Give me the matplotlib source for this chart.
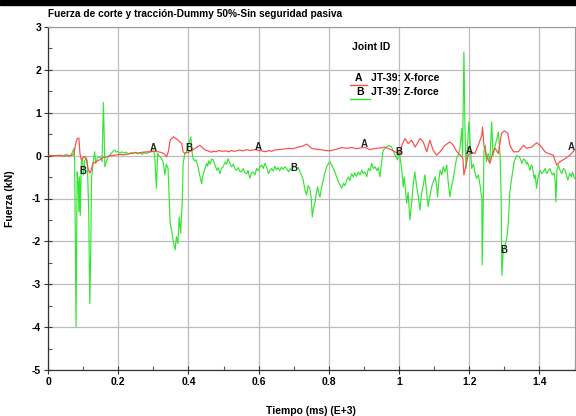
import numpy as np
import matplotlib
matplotlib.use("Agg")
import matplotlib.pyplot as plt
from matplotlib.ticker import MultipleLocator
from matplotlib.patches import Rectangle

plt.rcParams['font.family'] = ['Liberation Sans', 'DejaVu Sans']
plt.rcParams['axes.unicode_minus'] = False

# JT-39 X-force: (time in ms E+3, force in kN)
x_force_pts = [
    (0.000, 0.00), (0.028, 0.00), (0.048, -0.01), (0.066, 0.00), (0.074, 0.03),
    (0.078, 0.24), (0.083, 0.40), (0.088, 0.41), (0.091, 0.05), (0.095, -0.10),
    (0.103, -0.02), (0.109, -0.07), (0.114, -0.30), (0.119, -0.41), (0.123, -0.34),
    (0.128, -0.18), (0.138, -0.14), (0.147, -0.10), (0.156, -0.05), (0.166, -0.03),
    (0.178, 0.00), (0.190, 0.01), (0.205, 0.03), (0.216, 0.02), (0.228, 0.04),
    (0.238, 0.05), (0.247, 0.07), (0.258, 0.06), (0.270, 0.08), (0.285, 0.09),
    (0.304, 0.10), (0.320, 0.08), (0.330, 0.05), (0.338, -0.03), (0.343, 0.10),
    (0.348, 0.36), (0.357, 0.44), (0.371, 0.36), (0.381, 0.28), (0.385, 0.09),
    (0.390, 0.05), (0.400, 0.08), (0.409, 0.11), (0.417, 0.16), (0.424, 0.20),
    (0.433, 0.24), (0.442, 0.17), (0.448, 0.13), (0.456, 0.11), (0.465, 0.08),
    (0.472, 0.10), (0.479, 0.09), (0.487, 0.12), (0.495, 0.10), (0.507, 0.11),
    (0.515, 0.09), (0.522, 0.12), (0.529, 0.10), (0.536, 0.11), (0.545, 0.13),
    (0.555, 0.11), (0.566, 0.14), (0.575, 0.12), (0.590, 0.14), (0.600, 0.12),
    (0.609, 0.11), (0.620, 0.09), (0.630, 0.12), (0.637, 0.10), (0.646, 0.13),
    (0.655, 0.14), (0.668, 0.15), (0.685, 0.17), (0.698, 0.16), (0.713, 0.20),
    (0.725, 0.22), (0.737, 0.27), (0.751, 0.17), (0.762, 0.15), (0.775, 0.14),
    (0.790, 0.12), (0.803, 0.11), (0.818, 0.14), (0.827, 0.16), (0.837, 0.19),
    (0.850, 0.17), (0.865, 0.19), (0.879, 0.16), (0.890, 0.18), (0.903, 0.19),
    (0.917, 0.14), (0.927, 0.16), (0.936, 0.17), (0.948, 0.18), (0.960, 0.20),
    (0.979, 0.13), (0.993, 0.07), (1.003, 0.05), (1.008, 0.24), (1.017, 0.40),
    (1.026, 0.28), (1.036, 0.36), (1.046, 0.20), (1.060, 0.40), (1.069, 0.32),
    (1.079, 0.09), (1.088, 0.36), (1.097, 0.13), (1.107, 0.01), (1.117, 0.09),
    (1.131, 0.24), (1.145, 0.32), (1.155, 0.24), (1.164, 0.10), (1.179, -0.03),
    (1.182, -0.07), (1.185, -0.45), (1.191, -0.22), (1.197, 0.01), (1.207, 0.08),
    (1.216, 0.05), (1.226, 0.24), (1.236, 0.48), (1.238, 0.67), (1.242, 0.24),
    (1.249, 0.00), (1.259, -0.18), (1.268, 0.10), (1.274, 0.17), (1.283, 0.05),
    (1.292, 0.52), (1.300, 0.58), (1.310, 0.52), (1.316, 0.24), (1.326, 0.09),
    (1.340, 0.09), (1.355, 0.24), (1.364, 0.17), (1.378, 0.20), (1.392, 0.30),
    (1.402, 0.24), (1.416, 0.09), (1.425, 0.05), (1.440, 0.01), (1.444, -0.10),
    (1.449, -0.22), (1.459, -0.14), (1.473, -0.07), (1.487, 0.01), (1.500, 0.13),
]

# JT-39 Z-force: (time in ms E+3, force in kN)
z_force_pts = [
    (0.000, 0.01), (0.015, -0.01), (0.030, 0.01), (0.045, 0.00), (0.052, 0.03),
    (0.062, -0.01), (0.068, 0.05), (0.074, 0.17), (0.076, -0.15), (0.080, -3.99),
    (0.083, -0.38), (0.086, -0.60), (0.088, -1.31), (0.090, -0.50), (0.092, -1.39),
    (0.095, -0.14), (0.098, -0.05), (0.101, -0.45), (0.105, -0.10), (0.109, -0.05),
    (0.112, -0.14), (0.116, -1.31), (0.119, -3.45), (0.122, -2.09), (0.124, -0.53),
    (0.128, -0.20), (0.133, 0.09), (0.136, -0.18), (0.140, -0.08), (0.144, -0.03),
    (0.150, -0.05), (0.154, -0.14), (0.158, 1.24), (0.162, -0.26), (0.166, -0.15),
    (0.171, -0.03), (0.180, 0.05), (0.185, 0.10), (0.190, 0.13), (0.195, 0.08),
    (0.199, 0.10), (0.205, 0.06), (0.210, 0.09), (0.215, 0.06), (0.222, 0.08),
    (0.229, 0.04), (0.237, 0.07), (0.244, 0.05), (0.250, 0.08), (0.255, 0.04),
    (0.262, 0.07), (0.268, 0.03), (0.275, 0.07), (0.282, 0.05), (0.288, 0.08),
    (0.294, 0.09), (0.300, 0.12), (0.304, 0.00), (0.309, -0.76), (0.312, 0.05),
    (0.316, 0.00), (0.322, -0.05), (0.328, -0.15), (0.333, -0.45), (0.337, -0.20),
    (0.342, -0.30), (0.348, -1.57), (0.352, -1.74), (0.357, -2.00), (0.362, -2.20),
    (0.366, -1.89), (0.370, -2.05), (0.374, -1.43), (0.378, -1.81), (0.383, -0.96),
    (0.385, -0.18), (0.390, 0.05), (0.396, 0.10), (0.407, 0.44), (0.412, -0.03),
    (0.417, -0.12), (0.422, -0.10), (0.427, -0.25), (0.433, -0.49), (0.436, -0.60),
    (0.438, -0.65), (0.440, -0.50), (0.442, -0.45), (0.447, -0.30), (0.452, -0.18),
    (0.455, -0.25), (0.458, -0.12), (0.462, -0.20), (0.466, -0.08), (0.471, -0.10),
    (0.476, -0.22), (0.481, -0.34), (0.485, -0.28), (0.490, -0.42), (0.494, -0.30),
    (0.499, -0.26), (0.505, -0.15), (0.509, -0.20), (0.513, -0.07), (0.518, -0.18),
    (0.523, -0.26), (0.528, -0.20), (0.532, -0.30), (0.537, -0.34), (0.542, -0.28),
    (0.546, -0.36), (0.551, -0.38), (0.556, -0.30), (0.561, -0.40), (0.566, -0.42),
    (0.570, -0.35), (0.575, -0.53), (0.580, -0.40), (0.585, -0.38), (0.590, -0.45),
    (0.594, -0.30), (0.599, -0.35), (0.604, -0.26), (0.609, -0.22), (0.613, -0.30),
    (0.618, -0.18), (0.623, -0.28), (0.628, -0.42), (0.632, -0.35), (0.637, -0.30),
    (0.642, -0.36), (0.646, -0.25), (0.651, -0.33), (0.655, -0.28), (0.660, -0.35),
    (0.665, -0.27), (0.670, -0.32), (0.675, -0.26), (0.680, -0.30), (0.685, -0.38),
    (0.690, -0.30), (0.695, -0.35), (0.700, -0.24), (0.704, -0.26), (0.709, -0.30),
    (0.713, -0.28), (0.718, -0.38), (0.722, -0.45), (0.727, -0.57), (0.732, -0.80),
    (0.737, -0.92), (0.741, -0.70), (0.746, -0.76), (0.750, -1.00), (0.753, -1.43),
    (0.757, -1.20), (0.761, -1.08), (0.765, -0.85), (0.768, -0.73), (0.772, -0.90),
    (0.775, -0.96), (0.779, -0.75), (0.784, -0.57), (0.789, -0.40), (0.794, -0.26),
    (0.798, -0.20), (0.803, -0.14), (0.808, -0.22), (0.813, -0.30), (0.818, -0.40),
    (0.822, -0.49), (0.827, -0.60), (0.832, -0.68), (0.837, -0.76), (0.842, -0.65),
    (0.846, -0.70), (0.851, -0.57), (0.856, -0.50), (0.860, -0.58), (0.865, -0.42),
    (0.870, -0.50), (0.874, -0.40), (0.879, -0.49), (0.884, -0.38), (0.889, -0.45),
    (0.894, -0.34), (0.898, -0.42), (0.903, -0.38), (0.908, -0.49), (0.913, -0.30),
    (0.918, -0.35), (0.922, -0.18), (0.927, -0.30), (0.932, -0.26), (0.937, -0.35),
    (0.941, -0.28), (0.946, -0.49), (0.950, -0.20), (0.955, 0.13), (0.962, 0.18),
    (0.970, 0.24), (0.979, 0.20), (0.989, 0.01), (0.996, -0.10), (1.000, 0.13),
    (1.008, -0.34), (1.012, -0.73), (1.015, -0.50), (1.022, -1.11), (1.026, -0.85),
    (1.031, -1.50), (1.036, -1.11), (1.040, -0.70), (1.045, -0.38), (1.050, -0.70),
    (1.055, -0.95), (1.060, -1.27), (1.064, -0.90), (1.069, -0.70), (1.074, -0.45),
    (1.078, -0.80), (1.083, -1.19), (1.088, -0.95), (1.093, -0.73), (1.098, -0.60),
    (1.103, -0.49), (1.107, -0.70), (1.110, -0.96), (1.114, -0.55), (1.117, -0.34),
    (1.122, -0.45), (1.126, -0.26), (1.131, -0.38), (1.136, -0.22), (1.140, -0.60),
    (1.145, -0.96), (1.150, -0.70), (1.155, -0.53), (1.160, -0.25), (1.164, -0.07),
    (1.170, 0.05), (1.174, 0.20), (1.179, 0.63), (1.181, 0.00), (1.185, 2.42),
    (1.188, 0.63), (1.191, -0.30), (1.195, 0.20), (1.199, 0.79), (1.202, 0.40),
    (1.207, -0.30), (1.212, -0.20), (1.216, -0.38), (1.221, -0.53), (1.226, -0.45),
    (1.231, -0.69), (1.236, -1.00), (1.237, -2.55), (1.240, -1.15), (1.242, 0.09),
    (1.246, 0.24), (1.249, -0.14), (1.254, 0.05), (1.259, -0.14), (1.264, 0.79),
    (1.268, 0.00), (1.274, 0.24), (1.278, 0.36), (1.283, 0.55), (1.288, 0.00),
    (1.291, -0.92), (1.293, -2.79), (1.297, -2.24), (1.302, -2.09), (1.307, -1.93),
    (1.311, -1.62), (1.316, -0.84), (1.321, -0.53), (1.328, -0.14), (1.335, 0.00),
    (1.343, -0.03), (1.347, -0.10), (1.350, -0.18), (1.355, -0.08), (1.359, -0.10),
    (1.363, -0.20), (1.366, -0.15), (1.370, -0.25), (1.373, -0.34), (1.377, -0.22),
    (1.380, -0.25), (1.385, -0.53), (1.388, -0.45), (1.392, -0.76), (1.396, -0.50),
    (1.402, -0.34), (1.406, -0.42), (1.411, -0.38), (1.416, -0.30), (1.421, -0.42),
    (1.425, -0.35), (1.430, -0.30), (1.434, -0.40), (1.437, -0.45), (1.442, -0.40),
    (1.445, -0.60), (1.447, -1.08), (1.450, -0.34), (1.454, -0.22), (1.459, -0.35),
    (1.464, -0.42), (1.468, -0.30), (1.473, -0.34), (1.477, -0.45), (1.481, -0.57),
    (1.485, -0.45), (1.487, -0.42), (1.491, -0.50), (1.494, -0.38), (1.497, -0.45),
    (1.500, -0.53),
]

# Curve identifier letters along each trace
label_a_t = [0.3, 0.6, 0.9, 1.2, 1.5]
label_b_t = [0.1, 0.4, 0.7, 1.0, 1.3]

x_ticks = [0, 0.2, 0.4, 0.6, 0.8, 1.0, 1.2, 1.4]
x_tick_labels = ['0', '0.2', '0.4', '0.6', '0.8', '1', '1.2', '1.4']
y_ticks = [-5, -4, -3, -2, -1, 0, 1, 2, 3]

RED = '#ff4a4a'
GREEN = '#33e633'

xt, xv = map(list, zip(*x_force_pts))
zt, zv = map(list, zip(*z_force_pts))

fig = plt.figure(figsize=(5.76, 4.16), dpi=100)
ax = fig.add_axes([48 / 576, 46 / 416, 526.5 / 576, 343 / 416])

ax.plot(xt, xv, color=RED, lw=0.85, zorder=3)
ax.plot(zt, zv, color=GREEN, lw=0.85, zorder=2)

for t in label_a_t:
    # keep the last letter inside the frame at the right edge
    ha = 'right' if t >= 1.5 else 'center'
    ax.text(t, np.interp(t, xt, xv) + 0.08, 'A', ha=ha, va='center',
            fontsize=7, fontweight='bold', color='#222222', zorder=5)
for t in label_b_t:
    ax.text(t, np.interp(t, zt, zv) - 0.05, 'B', ha='center', va='center',
            fontsize=7, fontweight='bold', color='#222222', zorder=5)

ax.set_xlim(0, 1.5)
ax.set_ylim(-5, 3)
ax.set_xticks(x_ticks)
ax.set_xticklabels(x_tick_labels)
ax.set_yticks(y_ticks)
ax.set_yticklabels([str(v) for v in y_ticks])
ax.xaxis.set_minor_locator(MultipleLocator(0.1))
ax.yaxis.set_minor_locator(MultipleLocator(0.5))
ax.tick_params(which='major', direction='inout', length=6, width=0.8, color='#333333',
               labelsize=7.5, pad=2)
ax.tick_params(which='minor', direction='in', length=3, width=0.8, color='#555555')
for lab in ax.get_xticklabels() + ax.get_yticklabels():
    lab.set_fontweight('bold')

ax.grid(True, which='major', color='#bdbdbd', lw=0.9, zorder=0)
ax.set_axisbelow(True)
for side in ['top', 'right']:
    ax.spines[side].set_color('#999999')
    ax.spines[side].set_linewidth(0.8)
for side in ['left', 'bottom']:
    ax.spines[side].set_color('#333333')
    ax.spines[side].set_linewidth(0.9)

ax.set_xlabel('Tiempo (ms) (E+3)', fontsize=7.5, fontweight='bold', labelpad=14)
ax.set_ylabel('Fuerza (kN)', fontsize=7.5, fontweight='bold', labelpad=12)

# Title
fig.text(48 / 576, 1 - 14 / 416, 'Fuerza de corte y tracción-Dummy 50%-Sin seguridad pasiva',
         fontsize=7.3, fontweight='bold', ha='left', va='center')

# Legend block
ax.text(0.577, 0.942, 'Joint ID', transform=ax.transAxes, fontsize=7.5,
        fontweight='bold', ha='left', va='center')
ax.text(0.583, 0.851, 'A', transform=ax.transAxes, fontsize=7.5, fontweight='bold',
        ha='left', va='center')
ax.text(0.613, 0.851, 'JT-39: X-force', transform=ax.transAxes, fontsize=7.5,
        fontweight='bold', ha='left', va='center')
ax.text(0.585, 0.810, 'B', transform=ax.transAxes, fontsize=7.5, fontweight='bold',
        ha='left', va='center')
ax.text(0.613, 0.810, 'JT-39: Z-force', transform=ax.transAxes, fontsize=7.5,
        fontweight='bold', ha='left', va='center')
ax.plot([0.574, 0.606], [0.832, 0.832], transform=ax.transAxes, color=RED, lw=1.0)
ax.plot([0.574, 0.612], [0.791, 0.791], transform=ax.transAxes, color=GREEN, lw=1.0)

# Dark header band along the top edge
fig.patches.append(Rectangle((0, 1 - 5 / 416), 1, 5 / 416, transform=fig.transFigure,
                             color='black', zorder=10))

fig.savefig('out.png', dpi=100)
